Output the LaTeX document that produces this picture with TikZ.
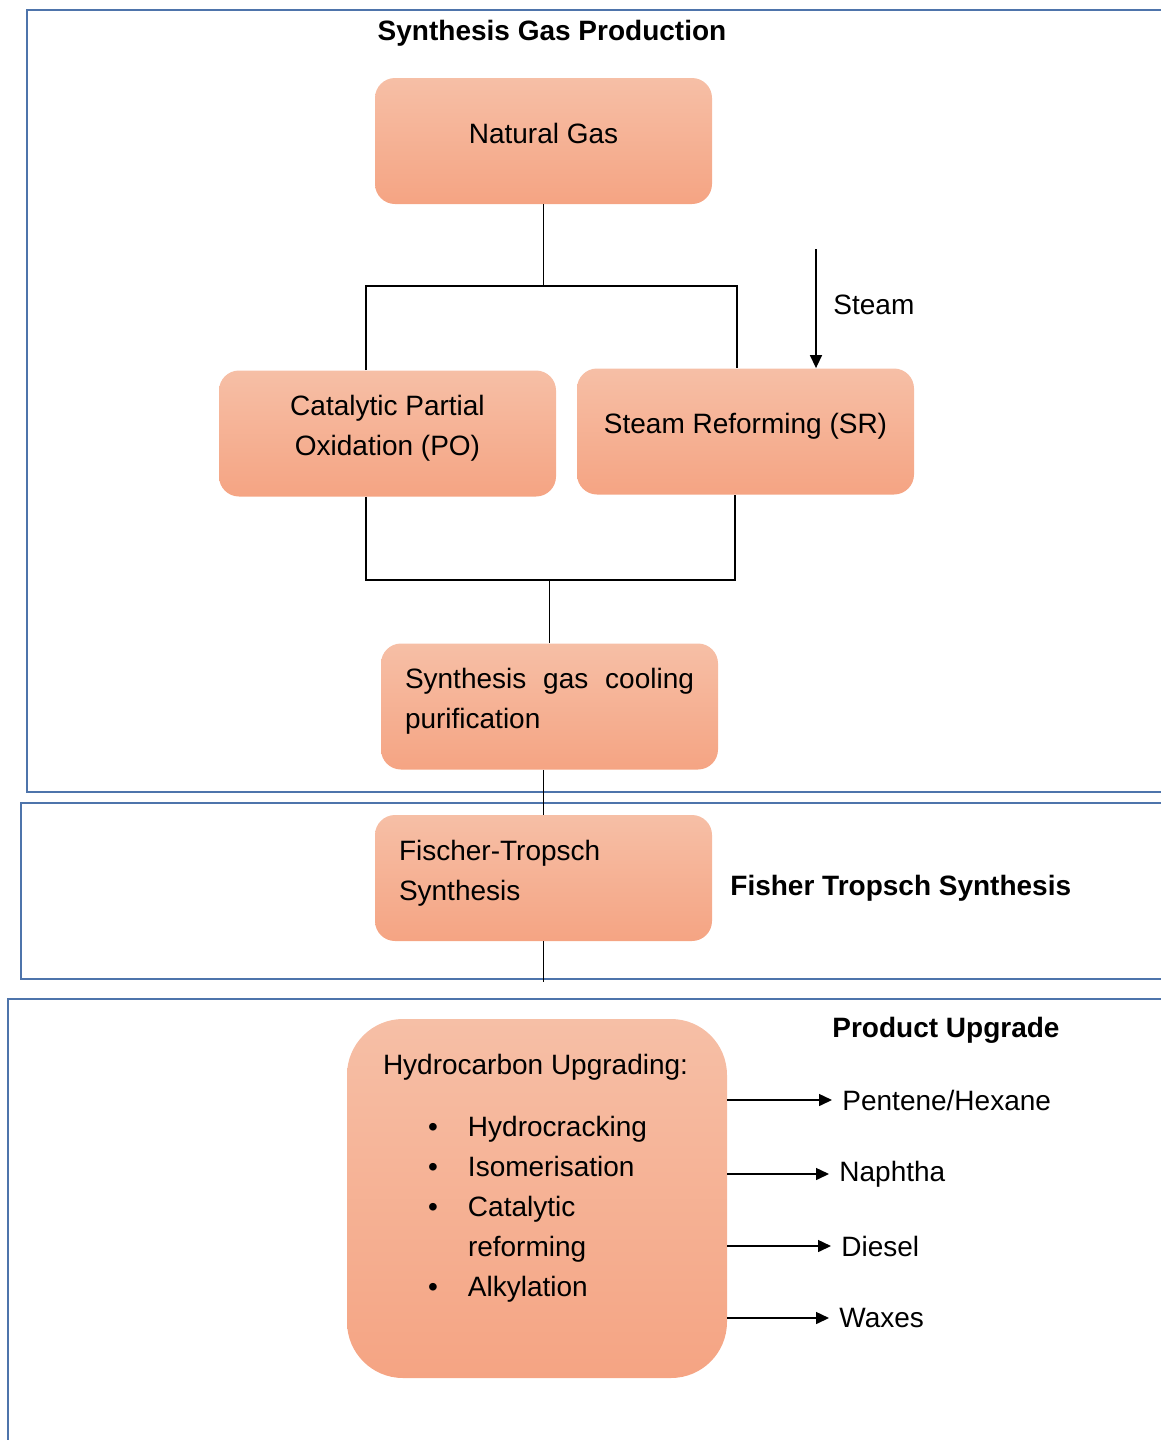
\documentclass[tikz,border=0pt]{standalone}
\usepackage{fontspec}
\setmainfont{Liberation Sans}
\usepackage{xcolor}
\usetikzlibrary{arrows.meta, positioning}
\definecolor{FrameBlue}{HTML}{4E74AB}
\definecolor{SalmonTop}{HTML}{F6BFA6}
\definecolor{SalmonBot}{HTML}{F5A483}

\newcommand{\lowpad}{\rule[-8pt]{0pt}{8pt}}
\newcommand{\bul}{\hspace*{22.5pt}\makebox[20pt][l]{\textbullet}}

\tikzset{
  procbox/.style={rounded corners=10pt, top color=SalmonTop, bottom color=SalmonBot,
    minimum width=168.5pt, minimum height=63pt, inner sep=0pt, align=center,
    font=\fontsize{14}{20}\selectfont},
  leftbox/.style={procbox, text width=144.5pt, align=left},
  frame/.style={draw=FrameBlue, line width=1pt},
  link/.style={draw=black, line width=0.75pt},
  flow/.style={link, -{Triangle[length=6.5pt,width=6pt]}},
  heading/.style={font=\fontsize{14}{20}\selectfont\bfseries, inner sep=0pt},
  prodtext/.style={font=\fontsize{14}{20}\selectfont, inner sep=0pt, anchor=west}
}

\begin{document}
\begin{tikzpicture}[x=0.5pt, y=-0.5pt]
  \useasboundingbox (0,0) rectangle (1161,1440);

  % Section frames
  \draw[frame] (1161,10) -| (27,792) -- (1161,792);
  \draw[frame] (1161,803) -| (21,979) -- (1161,979);
  \draw[frame] (1161,999) -| (8,1440);

  % Headings
  \node[heading] (sgp) at (552,33) {Synthesis Gas Production};
  \node[heading, anchor=west] (fts) at (730,888) {Fisher Tropsch Synthesis};
  \node[heading, anchor=west] (pu) at (832,1030) {Product Upgrade};

  % Synthesis gas production
  \node[procbox] (ng) at (543.5,141) {Natural Gas\lowpad};
  \node[procbox] (po) at (387.5,433.5) {Catalytic Partial\\Oxidation (PO)\lowpad};
  \node[procbox] (sr) at (745.5,431.5) {Steam Reforming (SR)\lowpad};
  \node[leftbox] (sg) at (549.5,706.5) {Synthesis\hfill gas\hfill cooling\\purification\lowpad};

  \coordinate (topL) at (366,286);
  \coordinate (topR) at (737,286);
  \coordinate (botL) at (366,580);
  \coordinate (botR) at (735,580);
  \draw[link] (ng.south) -- (ng.south |- topL);
  \draw[link] (po.north -| topL) |- (topR) -- (topR |- sr.north);
  \draw[link] (po.south -| botL) |- (botR) -- (botR |- sr.south);
  \draw[link] (sg.north) -- (sg.north |- botL);

  \coordinate (steamin) at (816,249);
  \draw[flow] (steamin) -- (steamin |- sr.north);
  \node[prodtext] (steam) at (833,305) {Steam};

  % Fischer-Tropsch synthesis
  \node[leftbox] (ft) at (543.5,878) {Fischer-Tropsch\\Synthesis\lowpad};
  \draw[link] (ft.north |- sg.south) -- (ft.north);
  \coordinate (ftend) at (543.5,982);
  \draw[link] (ft.south) -- (ftend);

  % Product upgrade
  \node[procbox, rounded corners=28pt, minimum width=190pt, minimum height=179.5pt] (hc) at (537,1198.5) {%
    \begin{minipage}[c][179.5pt][t]{154pt}
      \vspace*{17.5pt}
      Hydrocarbon Upgrading:\par
      \vspace{11pt}
      \bul Hydrocracking\par
      \bul Isomerisation\par
      \bul Catalytic\par
      \hspace*{42.5pt}reforming\par
      \bul Alkylation\par
    \end{minipage}};

  \node[prodtext] (pent) at (842,1100) {Pentene/Hexane};
  \node[prodtext] (naph) at (839,1174) {Naphtha};
  \node[prodtext] (dies) at (841,1246) {Diesel};
  \node[prodtext] (wax) at (839,1318) {Waxes};
  \foreach \p in {pent, naph, dies, wax}
    \draw[flow, shorten >=5pt] (hc.east |- \p.west) -- (\p.west);
\end{tikzpicture}
\end{document}
